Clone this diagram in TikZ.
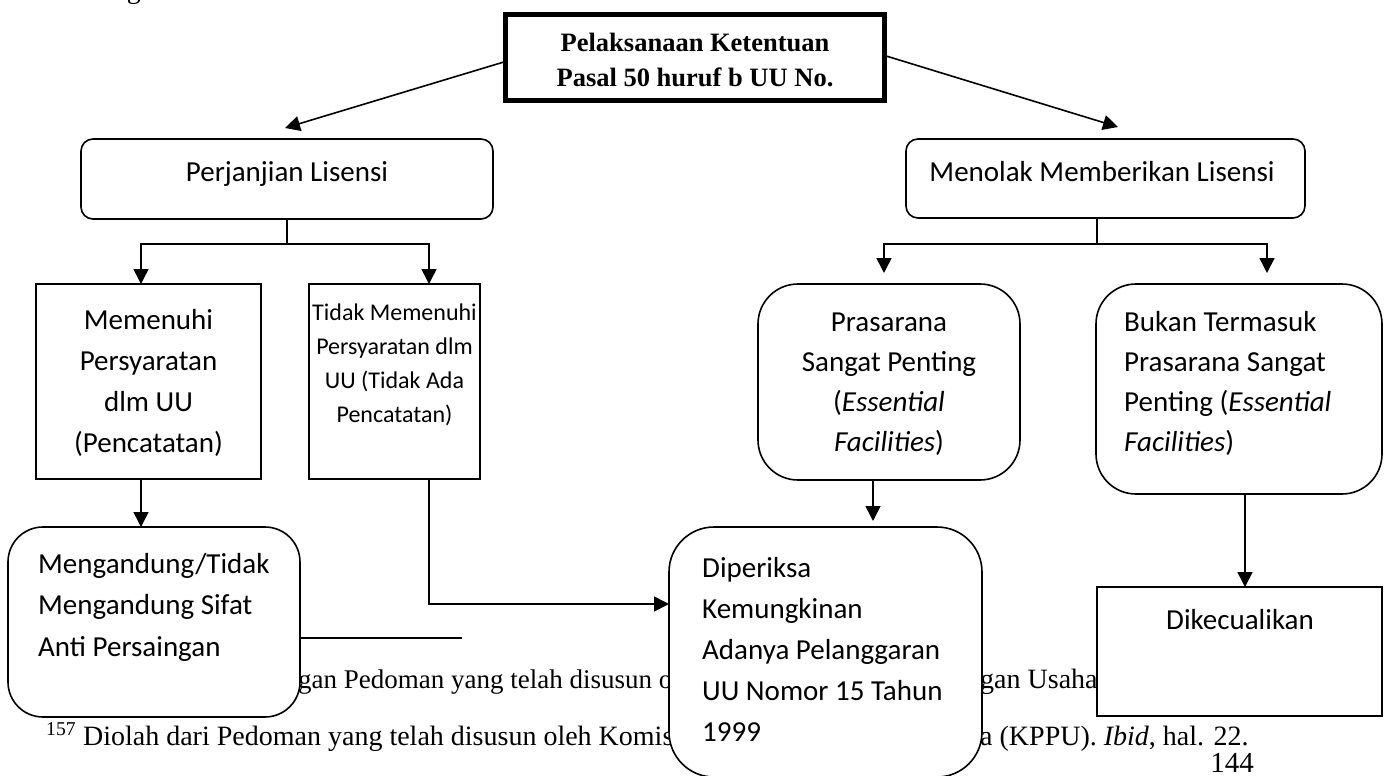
\documentclass[tikz,border=0pt]{standalone}
\usepackage{fontspec}
\setmainfont{Liberation Serif}
\newfontfamily\calfont{Carlito}
\usetikzlibrary{arrows.meta}
\begin{document}
\begin{tikzpicture}[x=1pt,y=-1pt,
  box/.style={draw, fill=white, line width=1.6pt, inner sep=0pt, outer sep=0pt},
  rbox/.style={box, rounded corners=#1},
  con/.style={line width=1.6pt},
  arr/.style={line width=1.6pt, -{Triangle[length=15pt,width=15pt]}},
  cal/.style={font=\calfont\fontsize{29}{35}\selectfont, inner sep=0pt, anchor=base},
  calw/.style={cal, anchor=base west},
  cals/.style={font=\calfont\fontsize{24}{30}\selectfont, inner sep=0pt, anchor=base},
  fn/.style={font=\fontsize{28}{34}\selectfont, inner sep=0pt, anchor=base west},
  tt/.style={font=\bfseries\fontsize{26.5}{32}\selectfont, inner sep=0pt, anchor=base}
]
\useasboundingbox (0,0) rectangle (1390,776);
\fill[white] (0,0) rectangle (1390,776);

% page text behind the chart
\node[fn] (intro) at (77,-1.5) {sebagai berikut:};
\draw[line width=1.4pt] (60,638) -- (462,638) coordinate (rule);
\node[fn, font=\fontsize{27}{34}\selectfont] (f1a) at (298,688) {gan Pedoman yang telah disusun o};
\node[fn] (f1b) at (980,688) {gan Usaha};
\node[fn] (f2a) at (46,745) {\textsuperscript{157} Diolah dari Pedoman yang telah disusun oleh Komis};
\node[fn] (f2b) at (980,745) {a (KPPU). \textit{Ibid}, hal. 22.};
\node[font=\fontsize{29}{34}\selectfont, inner sep=0pt, anchor=base] (pg) at (1232,772) {144};

% boxes
\node[box, line width=5pt, minimum width=379pt, minimum height=86pt] (tb) at (695,57.5) {};
\node[rbox=12pt, minimum width=412pt, minimum height=80pt] (perj) at (287,179) {};
\node[rbox=12pt, minimum width=399pt, minimum height=79pt] (men) at (1105.5,178.5) {};
\node[box, minimum width=225pt, minimum height=195pt] (mem) at (148.5,381.5) {};
\node[box, minimum width=171pt, minimum height=195pt] (tid) at (394.5,381.5) {};
\node[rbox=40pt, minimum width=262pt, minimum height=196pt] (pras) at (889,382) {};
\node[rbox=40pt, minimum width=286pt, minimum height=210pt] (bukan) at (1239,389) {};
\node[rbox=35pt, minimum width=292pt, minimum height=190pt] (meng) at (154,622) {};
\node[rbox=45pt, minimum width=313pt, minimum height=250pt] (dip) at (825.5,652) {};
\node[box, minimum width=285pt, minimum height=129pt] (dik) at (1239.5,651.5) {};

% texts
\node[tt] (tb1) at (695,52) {Pelaksanaan Ketentuan};
\node[tt] (tb2) at (695,87) {Pasal 50 huruf b UU No.};
\node[cal] (tperj) at (287,181) {Perjanjian Lisensi};
\node[cal] (tmen) at (1102,181) {Menolak Memberikan Lisensi};
\node[cal] (m1) at (148.5,329) {Memenuhi};
\node[cal] (m2) at (148.5,370) {Persyaratan};
\node[cal] (m3) at (148.5,411) {dlm UU};
\node[cal] (m4) at (148.5,452) {(Pencatatan)};
\node[cals] (t1) at (394.5,320) {Tidak Memenuhi};
\node[cals] (t2) at (394.5,354) {Persyaratan dlm};
\node[cals] (t3) at (394.5,388) {UU (Tidak Ada};
\node[cals] (t4) at (394.5,422) {Pencatatan)};
\node[cal] (p1) at (889,331) {Prasarana};
\node[cal] (p2) at (889,371) {Sangat Penting};
\node[cal] (p3) at (889,411) {(\textit{Essential}};
\node[cal] (p4) at (889,451) {\textit{Facilities})};
\node[calw] (b1) at (1124,331) {Bukan Termasuk};
\node[calw] (b2) at (1124,371) {Prasarana Sangat};
\node[calw] (b3) at (1124,411) {Penting (\textit{Essential}};
\node[calw] (b4) at (1124,451) {\textit{Facilities})};
\node[calw] (g1) at (38,573) {Mengandung/Tidak};
\node[calw] (g2) at (38,614) {Mengandung Sifat};
\node[calw] (g3) at (38,656) {Anti Persaingan};
\node[calw] (d1) at (702,577) {Diperiksa};
\node[calw] (d2) at (702,618) {Kemungkinan};
\node[calw] (d3) at (702,659) {Adanya Pelanggaran};
\node[calw] (d4) at (702,700) {UU Nomor 15 Tahun};
\node[calw] (d5) at (702,741) {1999};
\node[cal] (tdik) at (1240,629) {Dikecualikan};

% connectors
\coordinate (pl) at (285,128);
\coordinate (pr) at (1118,127);
\draw[arr] ([yshift=-4pt]tb.west) -- (pl);
\draw[arr] ([yshift=2pt]tb.east) -- (pr);
\coordinate (lj) at (287,244);
\draw[con] (perj.south) -- (lj);
\draw[arr] (lj) -| (141,0 |- mem.north);
\draw[arr] (lj) -| (429,0 |- tid.north);
\coordinate (rj) at (1097,244);
\draw[con] (rj |- men.south) -- (rj);
\coordinate (ra) at (884,273);
\coordinate (rb) at (1267,273);
\draw[arr] (rj) -| (ra);
\draw[arr] (rj) -| (rb);
\draw[arr] (141,0 |- mem.south) -- (141,0 |- meng.north);
\draw[arr] (429,0 |- tid.south) |- (dip.west |- 0,604);
\draw[arr] (873,0 |- pras.south) -- (873,521);
\draw[arr] (1245,0 |- bukan.south) -- (1245,0 |- dik.north);
\end{tikzpicture}
\end{document}
